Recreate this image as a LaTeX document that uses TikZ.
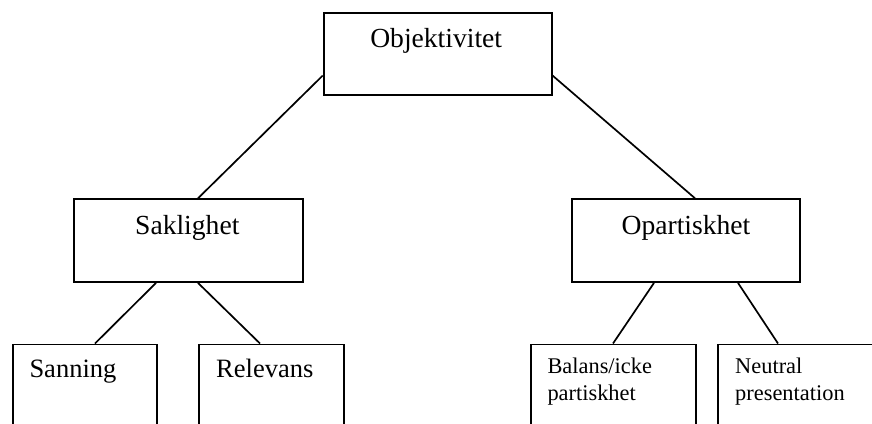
\documentclass[tikz,border=0pt]{standalone}
\usepackage{fontspec}
\setmainfont{Liberation Serif}
\usetikzlibrary{calc}
\begin{document}
\begin{tikzpicture}[x=1pt,y=-1pt,
  box/.style={draw=black,line width=1.9pt,rectangle,inner sep=0pt,anchor=north west,fill=none},
  conn/.style={draw=black,line width=1.7pt},
  big/.style={inner sep=0pt,anchor=base,font=\fontsize{27.6}{33}\selectfont},
  mid/.style={inner sep=0pt,anchor=base west,font=\fontsize{26.5}{32}\selectfont},
  small/.style={inner sep=0pt,anchor=base west,align=left,font=\fontsize{22.4}{26.3}\selectfont}]
\clip (0,0) rectangle (872,423);
% boxes
\node[box,minimum width=228pt,minimum height=82pt] (obj) at (322.7,11.7) {};
\node[box,minimum width=229pt,minimum height=82.7pt] (sak) at (72.7,198.3) {};
\node[box,minimum width=228.3pt,minimum height=82.7pt] (opa) at (571,198.3) {};
\node[box,minimum width=143.4pt,minimum height=110pt] (san) at (12.3,343.5) {};
\node[box,minimum width=145.3pt,minimum height=110pt] (rel) at (198,343.5) {};
\node[box,minimum width=165pt,minimum height=110pt] (bal) at (530,343.5) {};
\node[box,minimum width=200pt,minimum height=110pt] (neu) at (716.7,343.5) {};
% texts
\node[big] (objt) at (436.2,47.5) {Objektivitet};
\node[big] (sakt) at (187.3,234.5) {Saklighet};
\node[big] (opat) at (686,234.5) {Opartiskhet};
\node[mid] (sant) at (29.3,377.5) {Sanning};
\node[mid] (relt) at (216,377.5) {Relevans};
\node[small] (balt) at (547.3,400) {Balans/icke\\partiskhet};
\node[small] (neut) at (735,400) {Neutral\\presentation};
% connectors
\draw[conn] ($(obj.south west)+(0,-20)$) -- ($(sak.north west)+(125.3,0)$);
\draw[conn] ($(obj.south east)+(0,-20)$) -- ($(opa.north west)+(124,0)$);
\draw[conn] ($(sak.south west)+(83.3,0)$) -- ($(san.north west)+(82.7,0)$);
\draw[conn] ($(sak.south west)+(125.3,0)$) -- ($(rel.north west)+(62,0)$);
\draw[conn] ($(opa.south west)+(83,0)$) -- ($(bal.north west)+(83,0)$);
\draw[conn] ($(opa.south west)+(167,0)$) -- ($(neu.north west)+(61.3,0)$);
\end{tikzpicture}
\end{document}
